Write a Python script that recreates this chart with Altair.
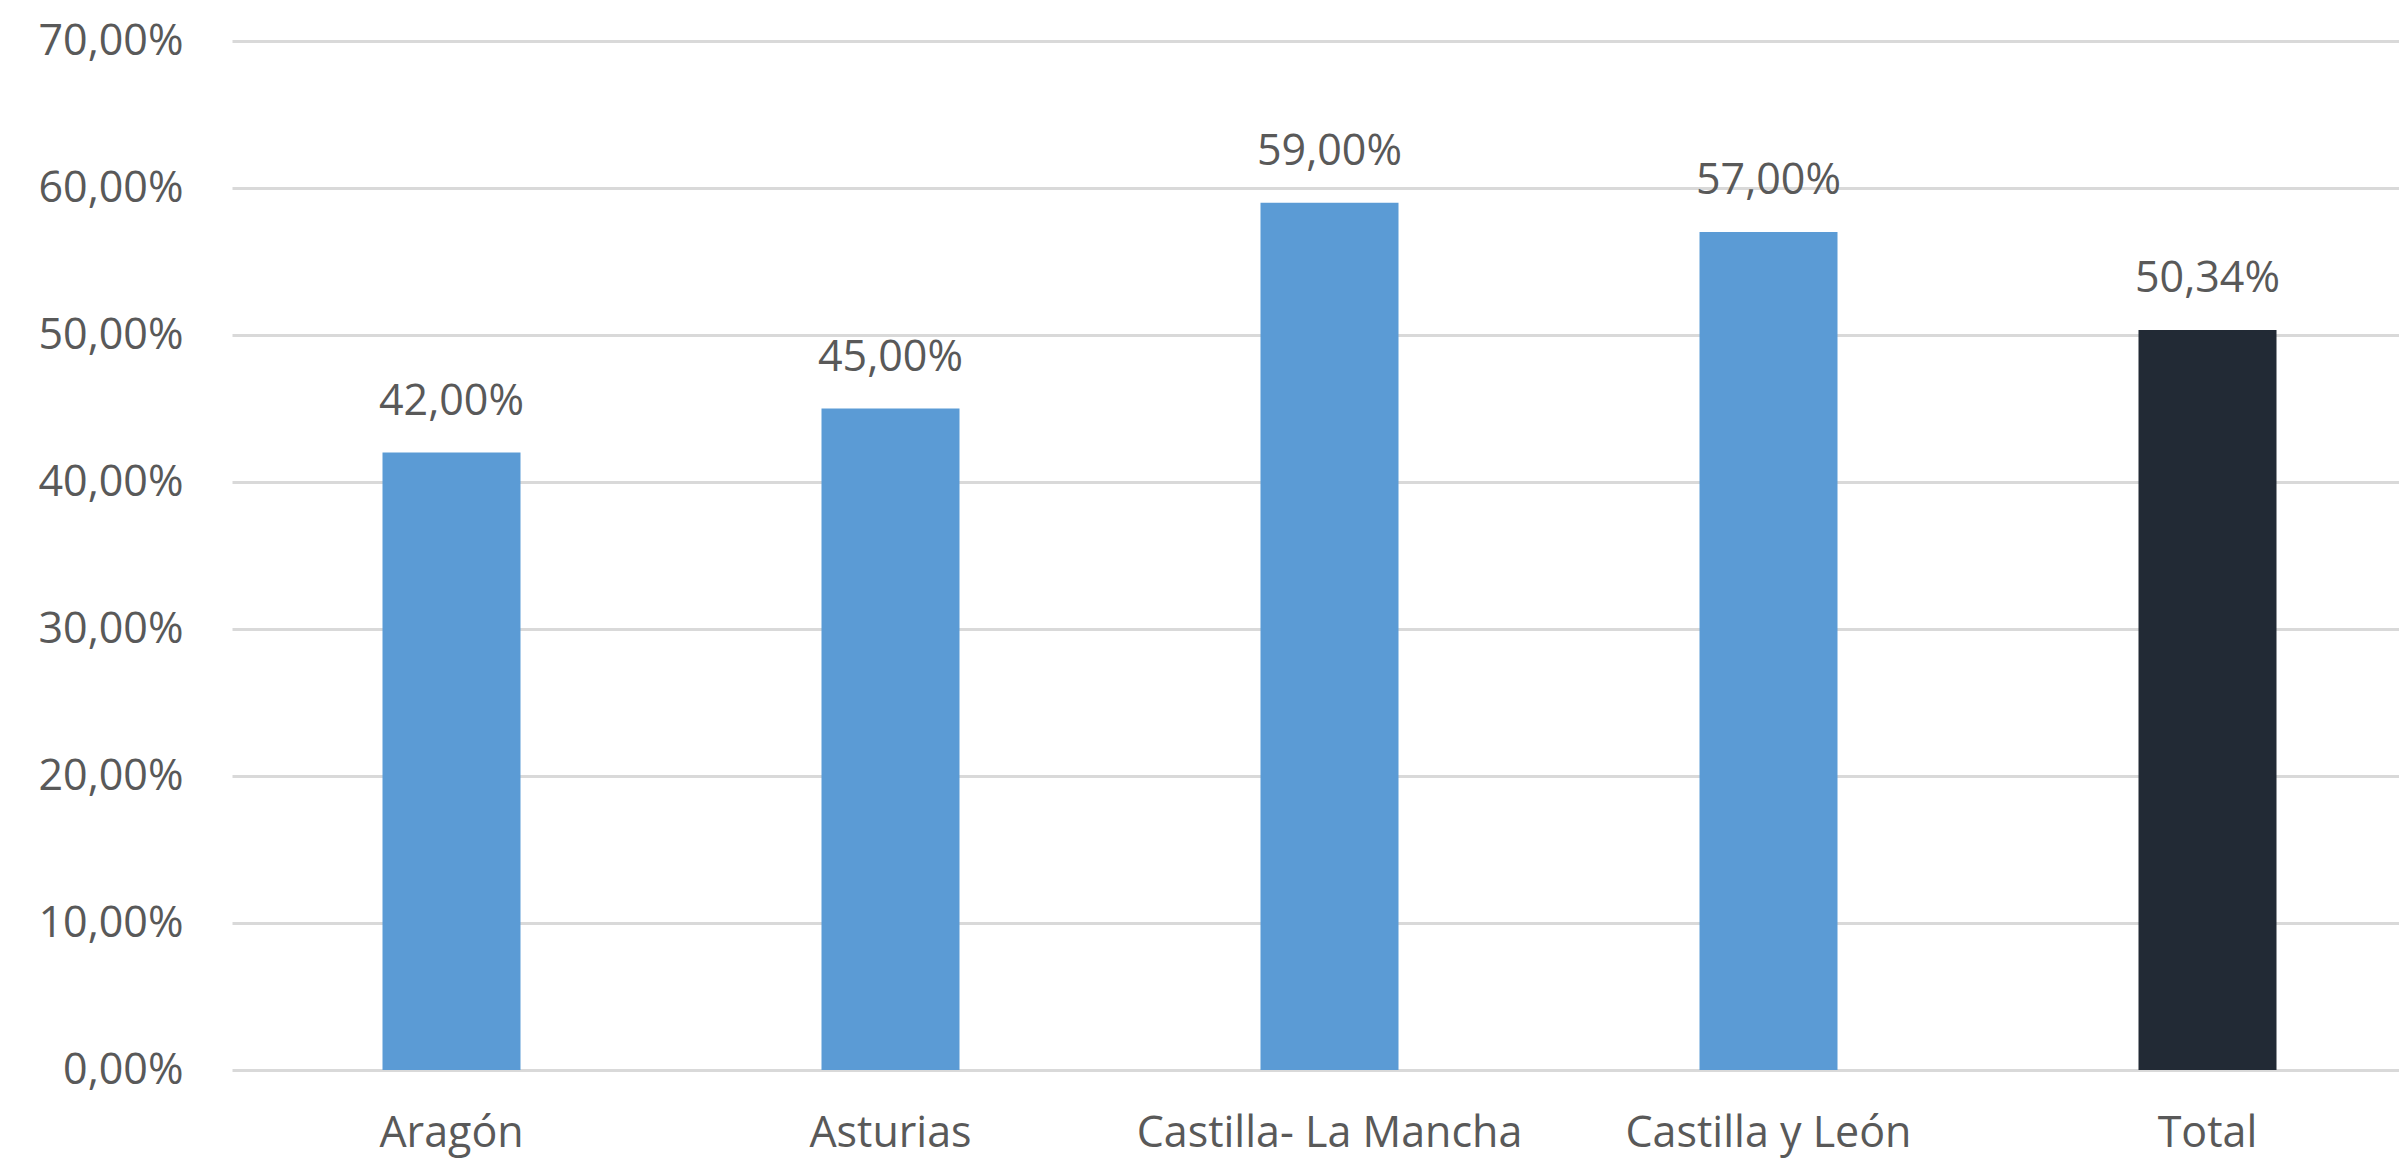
import altair as alt
import pandas as pd

regions = ["Aragón", "Asturias", "Castilla- La Mancha", "Castilla y León", "Total"]
shares = [0.42, 0.45, 0.59, 0.57, 0.5034]
y_ticks = [0.0, 0.1, 0.2, 0.3, 0.4, 0.5, 0.6, 0.7]

df = pd.DataFrame({"region": regions, "share": shares})

FONT = "Open Sans"
TXT = "#595959"
BLUE = "#5B9BD5"
DARK = "#222A35"
FS = 43
fmt = "replace(format(datum.value, '.2%'), '.', ',')"

x = alt.X(
    "region:N",
    sort=regions,
    title=None,
    scale=alt.Scale(range=[0, 2195], paddingInner=0, paddingOuter=0),
    axis=alt.Axis(
        labelAngle=0, domain=False, ticks=False, grid=False, labelLimit=0,
        labelFont=FONT, labelFontSize=FS, labelColor=TXT, labelPadding=42,
    ),
)
y = alt.Y(
    "share:Q",
    title=None,
    scale=alt.Scale(domain=[0, 0.7], nice=False),
    axis=alt.Axis(
        values=y_ticks, labelExpr=fmt, domain=False, ticks=False,
        gridColor="#D9D9D9", gridWidth=3,
        labelFont=FONT, labelFontSize=FS, labelColor=TXT, labelPadding=49,
    ),
)

base = alt.Chart(df).encode(x=x, y=y)

bars = base.mark_bar(size=138).encode(
    color=alt.condition(alt.datum.region == "Total", alt.value(DARK), alt.value(BLUE))
)

labels = base.transform_calculate(
    label="replace(format(datum.share, '.2%'), '.', ',')"
).mark_text(
    dy=-38, baseline="alphabetic", font=FONT, fontSize=FS, color=TXT
).encode(text="label:N")

chart = (bars + labels).properties(
    width=2167,
    height=1029,
    autosize=alt.AutoSizeParams(type="none"),
    padding={"left": 224, "top": 33, "right": 0, "bottom": 94},
).configure(background="white").configure_view(stroke=None, strokeWidth=0)

chart.save("out.html", embed_options={"renderer": "svg", "actions": False})
